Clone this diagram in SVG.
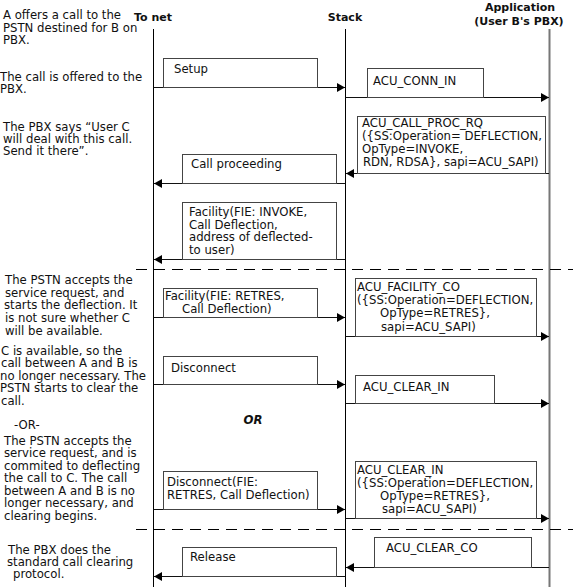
<svg xmlns="http://www.w3.org/2000/svg" width="573" height="587" viewBox="0 0 573 587">
<style>
text{font-family:"DejaVu Sans",Verdana,sans-serif;font-size:11.7px;fill:#111}
.hd{font-weight:bold;font-size:11px;text-anchor:middle}
.box{fill:#fff;stroke:#444;stroke-width:1}
.msg{stroke:#111;stroke-width:1;fill:none;marker-end:url(#ah)}
.life{stroke:#000;stroke-width:1}
.dash{stroke:#000;stroke-width:1;stroke-dasharray:11 7}
</style>
<defs>
<marker id="ah" markerUnits="userSpaceOnUse" markerWidth="9" markerHeight="10" refX="8" refY="5" orient="auto">
<path d="M0,0.5 L8,5 L0,9.5 z" fill="#000"/>
</marker>
</defs>
<rect width="573" height="587" fill="#fff"/>

<g id="lifelines">
<text class="hd" x="153" y="21">To net</text>
<text class="hd" x="345" y="21">Stack</text>
<text class="hd" x="520" y="11">Application</text>
<text class="hd" x="519" y="25">(User B's PBX)</text>
<line class="life" x1="153.5" y1="29" x2="153.5" y2="587"/>
<line class="life" x1="345.5" y1="29" x2="345.5" y2="587"/>
<line x1="549.5" y1="29" x2="549.5" y2="587" stroke="#777" stroke-width="2"/>
</g>

<g id="separators">
<line class="dash" x1="136" y1="269.5" x2="573" y2="269.5"/>
<line class="dash" x1="136" y1="529.5" x2="573" y2="529.5"/>
</g>

<g id="notes">
<text x="3" y="19">A offers a call to the</text>
<text x="3" y="31.5">PSTN destined for B on</text>
<text x="3" y="43.5">PBX.</text>
<text x="0" y="80.5">The call is offered to the</text>
<text x="0" y="92.5">PBX.</text>
<text x="3" y="131">The PBX says “User C</text>
<text x="3" y="143">will deal with this call.</text>
<text x="3" y="155">Send it there”.</text>
<text x="5" y="284">The PSTN accepts the</text>
<text x="5" y="296.5">service request, and</text>
<text x="4" y="309">starts the deflection. It</text>
<text x="5" y="321.5">is not sure whether C</text>
<text x="5" y="334.5">will be available.</text>
<text x="1" y="354.5">C is available, so the</text>
<text x="1" y="367">call between A and B is</text>
<text x="0" y="379.5">no longer necessary. The</text>
<text x="0" y="392">PSTN starts to clear the</text>
<text x="1" y="404.5">call.</text>
<text x="14" y="429">-OR-</text>
<text x="4" y="444.5">The PSTN accepts the</text>
<text x="4" y="457">service request, and is</text>
<text x="4" y="469.5">commited to deflecting</text>
<text x="4" y="482">the call to C.  The call</text>
<text x="4" y="494.5">between A and B is no</text>
<text x="4" y="507">longer necessary, and</text>
<text x="4" y="519.5">clearing begins.</text>
<text x="8" y="554">The PBX does the</text>
<text x="7" y="566">standard call clearing</text>
<text x="13" y="578">protocol.</text>
<text x="253" y="424" text-anchor="middle" font-weight="bold" font-style="italic">OR</text>
</g>

<g id="connectors">
<line class="msg" x1="153.5" y1="87.5" x2="345" y2="87.5"/>
<line class="msg" x1="345.5" y1="97.5" x2="549" y2="97.5"/>
<line class="msg" x1="549" y1="173.5" x2="346" y2="173.5"/>
<line class="msg" x1="345.5" y1="183.5" x2="154" y2="183.5"/>
<line class="msg" x1="345.5" y1="259.5" x2="154" y2="259.5"/>
<line class="msg" x1="153.5" y1="317.5" x2="345" y2="317.5"/>
<line class="msg" x1="345.5" y1="336.5" x2="549" y2="336.5"/>
<line class="msg" x1="153.5" y1="384.5" x2="345" y2="384.5"/>
<line class="msg" x1="345.5" y1="403.5" x2="549" y2="403.5"/>
<line class="msg" x1="153.5" y1="509.5" x2="345" y2="509.5"/>
<line class="msg" x1="345.5" y1="518.5" x2="549" y2="518.5"/>
<line class="msg" x1="549" y1="567.5" x2="346" y2="567.5"/>
<line class="msg" x1="345.5" y1="576.5" x2="154" y2="576.5"/>
</g>

<g id="setup">
<rect class="box" x="163.5" y="58.5" width="154" height="29"/>
<text x="174" y="73">Setup</text>
</g>
<g id="acu_conn_in">
<rect class="box" x="367.5" y="68.5" width="116" height="29"/>
<text x="373" y="85">ACU_CONN_IN</text>
</g>
<g id="acu_call_proc_rq">
<rect class="box" x="357.5" y="116.5" width="188" height="57"/>
<text x="362" y="127">ACU_CALL_PROC_RQ</text>
<text x="362" y="140">({SS:Operation= DEFLECTION,</text>
<text x="362" y="153">OpType=INVOKE,</text>
<text x="363" y="166">RDN, RDSA}, sapi=ACU_SAPI)</text>
</g>
<g id="call_proceeding">
<rect class="box" x="182.5" y="154.5" width="154" height="29"/>
<text x="191" y="168">Call proceeding</text>
</g>
<g id="facility_invoke">
<rect class="box" x="182.5" y="202.5" width="154" height="57"/>
<text x="189" y="216">Facility(FIE: INVOKE,</text>
<text x="189" y="228.5">Call Deflection,</text>
<text x="189" y="241">address of deflected-</text>
<text x="189" y="253.5">to user)</text>
</g>
<g id="facility_retres">
<rect class="box" x="163.5" y="288.5" width="154" height="29"/>
<text x="165" y="300">Facility(FIE: RETRES,</text>
<text x="182" y="313">Call Deflection)</text>
</g>
<g id="acu_facility_co">
<rect class="box" x="355.5" y="278.5" width="181" height="58"/>
<text x="357" y="291">ACU_FACILITY_CO</text>
<text x="357" y="304">({SS:Operation=DEFLECTION,</text>
<text x="380" y="317">OpType=RETRES},</text>
<text x="381" y="330.5">sapi=ACU_SAPI)</text>
</g>
<g id="disconnect">
<rect class="box" x="163.5" y="356.5" width="154" height="28"/>
<text x="171" y="372">Disconnect</text>
</g>
<g id="acu_clear_in_1">
<rect class="box" x="355.5" y="375.5" width="139" height="28"/>
<text x="363" y="391">ACU_CLEAR_IN</text>
</g>
<g id="disconnect_fie">
<rect class="box" x="163.5" y="471.5" width="154" height="38"/>
<text x="167" y="486">Disconnect(FIE:</text>
<text x="167" y="498.5">RETRES, Call Deflection)</text>
</g>
<g id="acu_clear_in_2">
<rect class="box" x="355.5" y="461.5" width="181" height="57"/>
<text x="357" y="474">ACU_CLEAR_IN</text>
<text x="357" y="487">({SS:Operation=DEFLECTION,</text>
<text x="380" y="500">OpType=RETRES},</text>
<text x="382" y="513">sapi=ACU_SAPI)</text>
</g>
<g id="acu_clear_co">
<rect class="box" x="374.5" y="537.5" width="157" height="30"/>
<text x="386" y="552">ACU_CLEAR_CO</text>
</g>
<g id="release">
<rect class="box" x="182.5" y="547.5" width="154" height="29"/>
<text x="190" y="561">Release</text>
</g>
</svg>
